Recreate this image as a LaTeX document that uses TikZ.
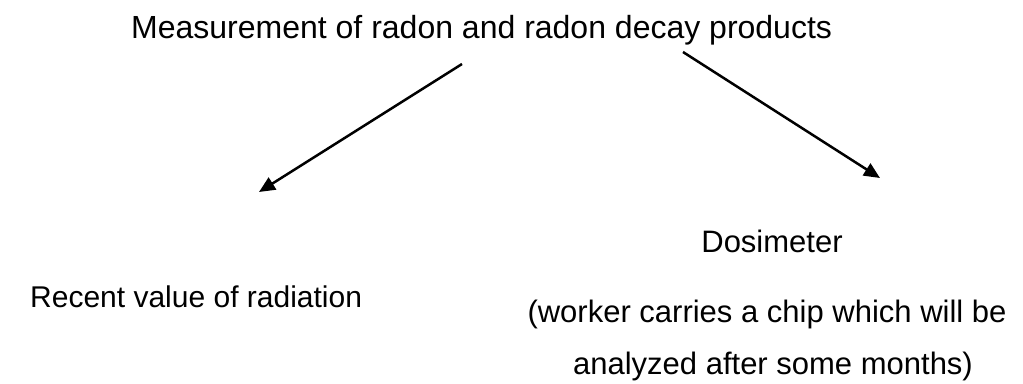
\documentclass[tikz,border=0pt]{standalone}
\usepackage{fontspec}
\setmainfont{Liberation Sans}
\usetikzlibrary{arrows.meta}
\begin{document}
\begin{tikzpicture}[x=1pt,y=-1pt,
  label/.style={inner sep=0pt,font=\fontsize{31}{37}\selectfont},
  branch/.style={line width=2.5pt,-{Triangle[length=16pt,width=14pt]}}]
  \useasboundingbox (0,0) rectangle (1023,383);
  % heading
  \node[label,anchor=base west,font=\fontsize{32}{38}\selectfont] (title) at (131,38) {Measurement of radon and radon decay products};
  % left branch
  \node[label,anchor=base west,font=\fontsize{30}{36}\selectfont] (recent) at (30,307) {Recent value of radiation};
  % right branch
  \node[label,anchor=base] (dosi) at (772,252) {Dosimeter};
  \node[label,anchor=base] (note1) at (767,322) {(worker carries a chip which will be};
  \node[label,anchor=base] (note2) at (773,374) {analyzed after some months)};
  % arrow ends
  \coordinate (ls) at (462,64);
  \coordinate (le) at (259,192);
  \coordinate (rs) at (683,52);
  \coordinate (re) at (880,178);
  \draw[branch] (ls) -- (le);
  \draw[branch] (rs) -- (re);
\end{tikzpicture}
\end{document}
